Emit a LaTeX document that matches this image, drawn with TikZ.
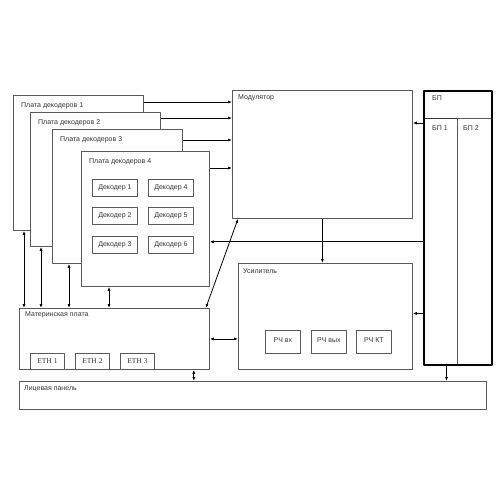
\documentclass[tikz,border=0pt]{standalone}
\usepackage{fontspec}
\setmainfont{Liberation Sans}
\newfontfamily\ethfont{Liberation Serif}
\usetikzlibrary{arrows.meta}
\tikzset{
  blk/.style={draw=black!65, line width=0.8pt, fill=white, anchor=north west, inner sep=0pt, text=black!80},
  psu/.style={blk, draw=black, line width=1.6pt},
  lbl/.style={anchor=west, inner sep=0pt, text=black!80},
  arr/.style={-{Latex[length=4pt,width=3pt]}, line width=0.8pt},
  darr/.style={{Latex[length=4pt,width=3pt]}-{Latex[length=4pt,width=3pt]}, line width=0.8pt}
}
\begin{document}
\begin{tikzpicture}[x=1pt, y=-1pt, font=\fontsize{7}{8}\selectfont, line join=round]
\useasboundingbox (0,0) rectangle (500,500);
% decoder boards
\foreach \i/\xa/\ya/\xb/\yb/\dx in {1/13/95/143/230/11,2/30/112/160/246/11,3/52/129/182/263/17,4/81/151/209/286/28} {
  \node[blk, minimum width=\xb pt-\xa pt, minimum height=\yb pt-\ya pt] (b\i) at (\xa,\ya) {};
  \node[lbl] (lb\i) at ([shift={(8pt,-11pt)}]b\i.north west) {Плата декодеров \i};
  \coordinate (c\i) at ([xshift=\dx pt]b\i.south west);
}
\foreach \n/\x/\y in {1/92/179,2/92/207,3/92/236,4/148/179,5/148/207,6/148/236}
  \node[blk, minimum width=45pt, minimum height=17pt] (d\n) at (\x,\y) {Декодер \n};
% main blocks
\node[blk, minimum width=180pt, minimum height=128pt] (mod) at (232,90) {};
\node[lbl] (lmod) at ([shift={(6pt,-8pt)}]mod.north west) {Модулятор};
\node[blk, minimum width=174pt, minimum height=106pt] (amp) at (238,263) {};
\node[lbl] (lamp) at ([shift={(5pt,-8pt)}]amp.north west) {Усилитель};
\node[blk, minimum width=190pt, minimum height=61pt] (mb) at (19,308) {};
\node[lbl] (lmb) at ([shift={(6pt,-7pt)}]mb.north west) {Материнская плата};
\node[blk, minimum width=467pt, minimum height=28pt] (pan) at (19,381) {};
\node[lbl] (lpan) at ([shift={(5pt,-8pt)}]pan.north west) {Лицевая панель};
\foreach \n/\x in {1/30,2/75,3/120}
  \node[blk, minimum width=34pt, minimum height=16pt, font=\ethfont\fontsize{7.5}{8}\selectfont] (eth\n) at (\x,353) {ETH \n};
\foreach \n/\x/\t in {1/265/РЧ вх,2/311/РЧ вых,3/356/РЧ КТ}
  \node[blk, minimum width=35pt, minimum height=23pt] (rf\n) at (\x,330) {\raisebox{3pt}{\t}};
% power supply
\node[blk, draw=black!80, line width=1pt, minimum width=34pt, minimum height=246pt] (bp1) at (423,118) {};
\node[blk, minimum width=34pt, minimum height=246pt] (bp2) at (457,118) {};
\node[psu, fill=none, minimum width=68pt, minimum height=274pt] (bp) at (423,90) {};
\node[lbl] (lbp) at ([shift={(9pt,-8pt)}]bp.north west) {БП};
\node[lbl] (lbp1) at ([shift={(9pt,-10pt)}]bp1.north west) {БП 1};
\node[lbl] (lbp2) at ([shift={(6pt,-10pt)}]bp2.north west) {БП 2};
% connections
\foreach \i/\d in {1/7,2/6,3/11,4/17} {
  \coordinate (o\i) at ([yshift=-\d pt]b\i.north east);
  \draw[arr] (o\i) -- (o\i -| mod.west);
}
\foreach \i in {1,...,4} \draw[darr] (c\i) -- (c\i |- mb.north);
\coordinate (p1) at ([yshift=-5pt]bp1.north west);
\draw[arr] (p1) -- (p1 -| mod.east);
\coordinate (p2) at ([yshift=45pt]b4.south east);
\draw[arr] (p2 -| bp.west) -- (p2);
\coordinate (p3) at ([yshift=3pt]amp.east);
\draw[arr] (p3 -| bp.west) -- (p3);
\draw[arr] (mod.south) -- (mod.south |- amp.north);
\coordinate (p4) at ([xshift=6pt]bp1.south);
\draw[arr] (p4) -- (p4 |- pan.north);
\draw[darr] (mb.east) -- (mb.east -| amp.west);
\coordinate (p5) at ([xshift=-16pt]mb.south east);
\draw[darr] (p5) -- (p5 |- pan.north);
\draw[darr] ([xshift=-4pt]mb.north east) -- ([xshift=6pt]mod.south west);
\end{tikzpicture}
\end{document}
